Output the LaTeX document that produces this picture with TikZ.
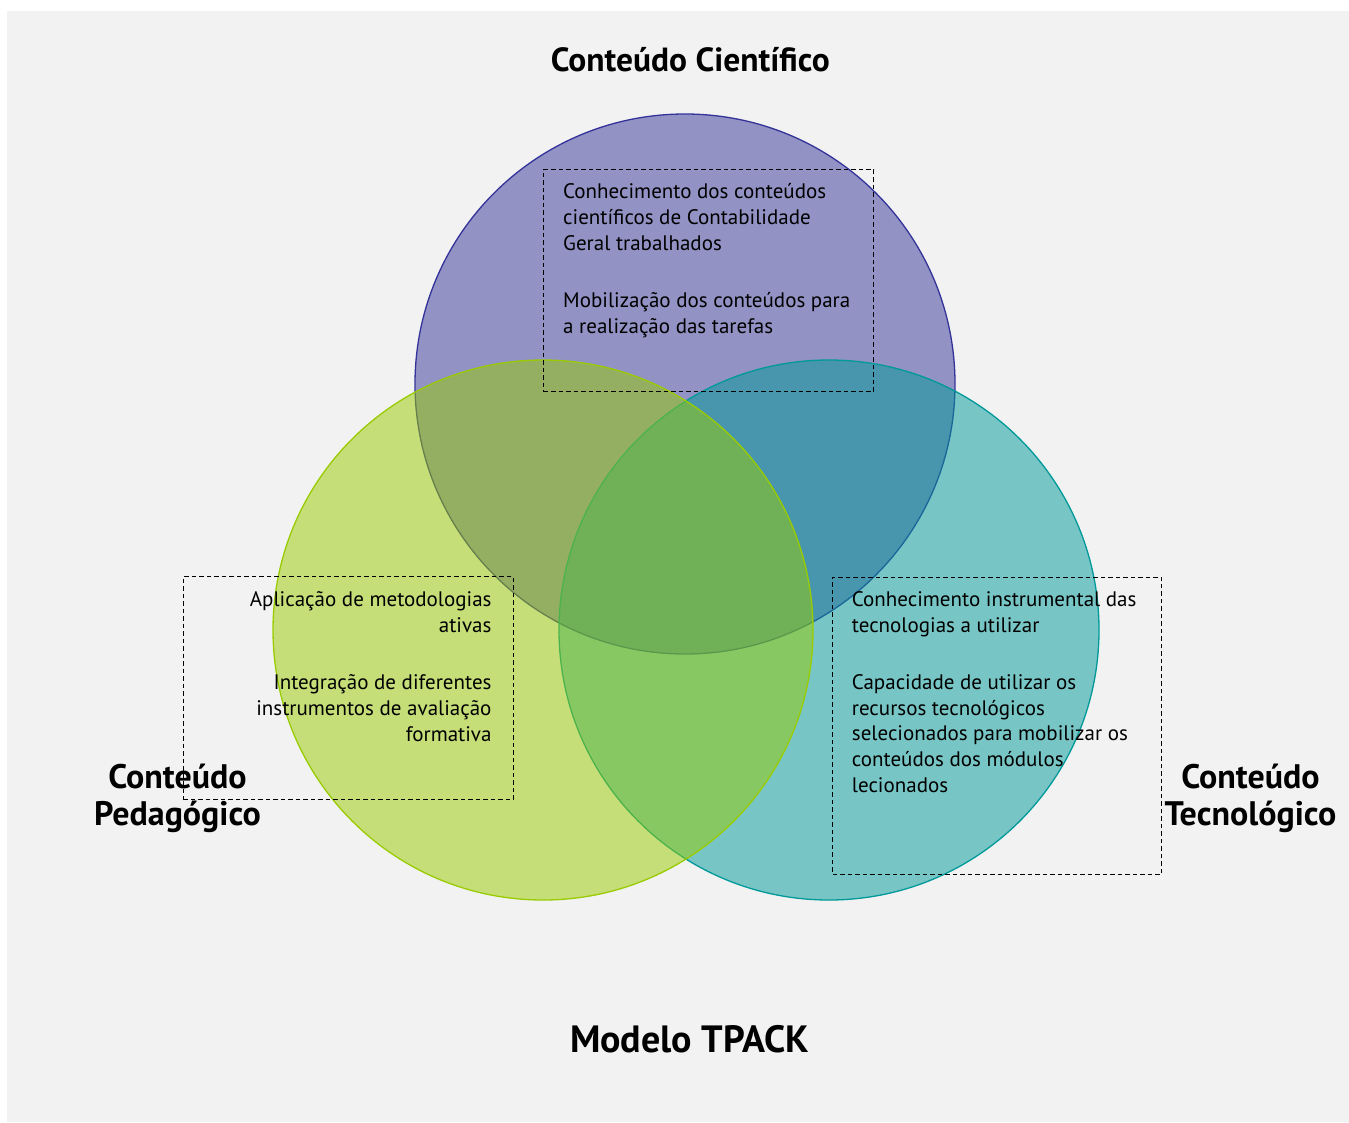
\documentclass[tikz,border=0pt]{standalone}
\usepackage{fontspec}
\setmainfont{PT Sans}
\definecolor{bggray}{HTML}{F2F2F2}
\definecolor{cpurple}{HTML}{333399}
\definecolor{cgreen}{HTML}{99CC00}
\definecolor{cteal}{HTML}{009999}
\begin{document}
\begin{tikzpicture}[x=1pt,y=-1pt,
  venn/.style={circle, minimum size=540pt, inner sep=0pt, fill opacity=0.5, line width=1.3pt},
  dbox/.style={draw=black, dash pattern=on 4.5pt off 3pt, line width=1.3pt, inner sep=0pt, anchor=north west},
  body/.style={font=\fontsize{21}{25.6}\selectfont, inner sep=0pt, text=black},
  title/.style={font=\bfseries\fontsize{34}{36.7}\selectfont, inner sep=0pt, align=center, text=black}]
\useasboundingbox (0,0) rectangle (1349,1122);
\fill[bggray] (7,11) rectangle (1349,1122);
\node[venn, draw=cpurple, fill=cpurple] (cc) at (685,384) {};
\node[venn, draw=cteal, fill=cteal] (ct) at (829,630) {};
\node[venn, draw=cgreen, fill=cgreen] (cp) at (543,630) {};
\node[dbox, minimum width=330pt, minimum height=222pt] (bc) at (543,169) {};
\node[dbox, minimum width=330pt, minimum height=223pt] (bp) at (182.7,576) {};
\node[dbox, minimum width=329pt, minimum height=297pt] (bt) at (832,576.7) {};
\node[title, font=\bfseries\fontsize{33.5}{36.7}\selectfont, anchor=base] (tc) at (690.3,71.7) {Conteúdo Científico};
\node[title, font=\bfseries\fontsize{38}{40}\selectfont, anchor=base] (tm) at (689.5,1052.3) {Modelo TPACK};
\node[title, anchor=base] (tp) at (177.5,825) {Conteúdo\\Pedagógico};
\node[title, anchor=base] (tt) at (1250.5,825) {Conteúdo\\Tecnológico};
\node[body, align=left, anchor=base west] (c1) at (563,250) {Conhecimento dos conteúdos\\científicos de Contabilidade\\Geral trabalhados};
\node[body, align=left, anchor=base west] (c2) at (563,333.3) {Mobilização dos conteúdos para\\a realização das tarefas};
\node[body, align=right, anchor=base east] (p1) at (491.7,632.3) {Aplicação de metodologias\\ativas};
\node[body, align=right, anchor=base east] (p2) at (491.7,741) {Integração de diferentes\\instrumentos de avaliação\\formativa};
\node[body, align=left, anchor=base west] (t1) at (851.7,632.3) {Conhecimento instrumental das\\tecnologias a utilizar};
\node[body, align=left, anchor=base west] (t2) at (851.7,792) {Capacidade de utilizar os\\recursos tecnológicos\\selecionados para mobilizar os\\conteúdos dos módulos\\lecionados};
\end{tikzpicture}
\end{document}
